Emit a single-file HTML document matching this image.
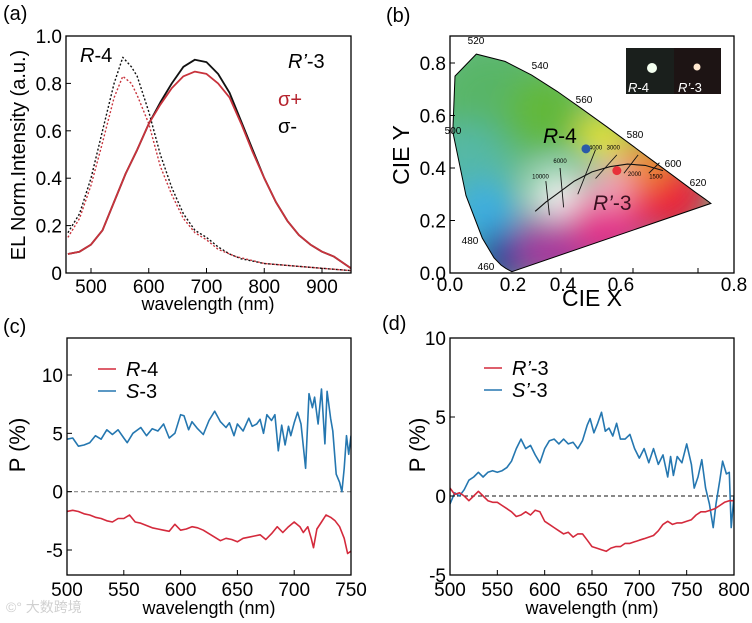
<!DOCTYPE html>
<html><head><meta charset="utf-8"><style>
html,body{margin:0;padding:0;background:#fff;}
svg{display:block;font-family:"Liberation Sans","Noto Sans CJK SC",sans-serif;}
</style></head><body>
<svg id="fig" width="752" height="623" viewBox="0 0 752 623" xmlns="http://www.w3.org/2000/svg">
<defs>
<filter id="blur" x="-50%" y="-50%" width="200%" height="200%"><feGaussianBlur stdDeviation="16"/></filter>
<clipPath id="locusClip"><path id="locusClipPath" d=""/></clipPath>
</defs>
<text x="3" y="20" font-size="20">(a)</text>
<text x="386" y="22" font-size="20">(b)</text>
<text x="3" y="333" font-size="20">(c)</text>
<text x="382" y="330" font-size="20">(d)</text>

<g id="pa"></g>
<g id="pb"></g>
<g id="pc"></g>
<g id="pd"></g>
<text x="6" y="612" font-size="14" fill="#d0d0d0">©° 大数跨境</text>
</svg>
<script>
// ---------- Panel (a) data ----------
const aBlackDotX = [460,480,500,520,540,555,570,580,600,620,640,660,680,700,720,740,760,780,800,850,900,950];
const aBlackDotY = [0.17,0.25,0.40,0.60,0.80,0.91,0.87,0.83,0.68,0.50,0.36,0.25,0.18,0.15,0.11,0.08,0.06,0.05,0.04,0.03,0.02,0.01];
const aRedDotX = [460,480,500,520,540,555,570,580,600,620,640,660,680,700,720,750,800,900,950];
const aRedDotY = [0.15,0.23,0.37,0.55,0.74,0.83,0.80,0.75,0.63,0.45,0.33,0.23,0.17,0.14,0.10,0.07,0.04,0.02,0.01];
const aSolidX = [460,480,500,520,540,560,580,600,620,640,660,680,700,720,740,760,780,800,820,840,860,880,900,920,950];
const aBlackSolidY = [0.08,0.09,0.12,0.18,0.30,0.42,0.52,0.63,0.72,0.80,0.87,0.90,0.89,0.84,0.76,0.64,0.52,0.40,0.30,0.22,0.16,0.12,0.09,0.07,0.02];
const aRedSolidY = [0.08,0.09,0.12,0.18,0.30,0.42,0.52,0.63,0.71,0.78,0.83,0.85,0.84,0.80,0.74,0.63,0.51,0.40,0.30,0.22,0.16,0.12,0.09,0.07,0.02];
const aXTicks = [500,600,700,800,900];
const aYTicks = [0,0.2,0.4,0.6,0.8,1.0];
const aYTickLabels = ["0","0.2","0.4","0.6","0.8","1.0"];

// ---------- Panel (b) data ----------
const locusX = [0.174,0.157,0.144,0.124,0.091,0.045,0.008,0.014,0.074,0.155,0.230,0.302,0.373,0.444,0.512,0.575,0.627,0.691,0.719,0.735];
const locusY = [0.005,0.018,0.030,0.058,0.133,0.295,0.538,0.750,0.834,0.806,0.754,0.692,0.624,0.555,0.487,0.424,0.372,0.308,0.281,0.265];
const locusLabels = ["460","480","500","520","540","560","580","600","620"];
const planckX = [0.24,0.27,0.30,0.35,0.40,0.45,0.50,0.55,0.60];
const planckY = [0.235,0.27,0.30,0.35,0.385,0.405,0.415,0.41,0.39];
const bXTickLabels = ["0.0","0.2","0.4","0.6","0.8"];
const bYTicks = [0,0.2,0.4,0.6,0.8];
const bYTickLabels = ["0.0","0.2","0.4","0.6","0.8"];
const pointR4 = [0.383,0.473];
const pointR3 = [0.47,0.39];

// ---------- Panel (c) data ----------
const cBlueX = [500,505,510,515,520,525,530,535,540,545,550,553,558,565,570,575,580,585,590,595,600,603,607,610,615,620,625,630,635,640,643,647,650,655,660,663,667,670,673,676,680,683,686,689,692,695,697,700,703,706,710,713,716,718,721,724,727,729,732,734,737,740,742,744,746,748,750];
const cBlueY = [4.5,4.6,3.9,4.0,4.2,4.8,4.5,5.3,4.9,5.3,4.6,4.2,5.0,5.5,4.8,5.4,5.2,5.8,4.6,5.0,6.6,6.5,5.3,6.0,5.4,4.9,6.1,6.9,6.0,5.5,5.9,4.8,5.8,5.2,6.3,5.6,5.8,6.2,5.0,6.6,6.1,6.6,3.5,5.7,4.0,5.6,4.8,5.9,6.8,5.8,2.0,8.4,7.2,8.1,5.8,8.8,4.1,8.6,6.3,5.2,1.5,0.8,0.0,2.0,4.8,3.2,4.8];
const cRedX = [500,505,510,515,520,525,530,535,540,545,550,555,560,565,570,575,580,585,590,595,600,605,610,615,620,625,630,635,640,645,650,655,660,665,670,675,680,685,690,695,700,705,708,712,715,717,720,724,728,732,736,740,744,747,750];
const cRedY = [-1.7,-1.6,-1.7,-1.9,-2.0,-2.2,-2.3,-2.5,-2.6,-2.3,-2.3,-2.0,-2.6,-2.7,-2.9,-3.1,-3.2,-3.3,-3.4,-2.8,-3.3,-3.2,-3.0,-3.1,-3.3,-3.6,-3.9,-4.2,-4.0,-4.1,-4.3,-4.0,-3.9,-3.8,-3.7,-4.1,-3.6,-3.0,-3.5,-3.0,-2.6,-3.0,-3.5,-3.0,-4.0,-4.8,-3.2,-2.6,-2.0,-2.2,-2.5,-3.0,-4.0,-5.3,-5.1];
const cXTicks = [500,550,600,650,700,750];
const cYTicks = [-5,0,5,10];

// ---------- Panel (d) data ----------
const dBlueX = [500,505,510,515,520,525,530,535,540,545,550,555,560,565,570,575,580,585,590,595,600,605,610,615,620,625,630,635,640,645,648,652,656,660,664,668,672,676,680,685,690,695,700,705,710,715,720,725,730,733,736,740,745,750,755,758,762,766,770,774,778,781,785,788,792,795,797,800];
const dBlueY = [-0.5,0.2,0.0,0.4,1.0,1.2,1.5,1.2,1.5,1.6,1.5,1.6,1.8,2.2,3.0,3.6,3.0,3.2,2.6,2.1,3.0,3.5,3.6,3.3,3.6,3.3,3.4,3.0,3.5,4.5,4.9,4.0,4.6,5.3,4.1,4.3,3.8,4.6,3.6,3.6,3.9,3.0,2.4,3.0,2.1,3.0,2.0,2.6,1.2,2.5,1.3,2.5,2.1,3.3,2.0,0.5,1.2,2.3,0.5,-0.5,-2.0,-0.5,1.0,2.2,1.4,1.5,-2.0,0.0];
const dRedX = [500,505,510,515,520,525,530,535,540,545,550,555,560,565,570,575,580,585,590,595,600,605,610,615,620,625,630,635,640,645,650,655,660,665,670,675,680,685,690,695,700,705,710,715,720,725,730,735,740,745,750,755,760,765,770,775,780,785,790,795,800];
const dRedY = [0.5,0.1,0.2,0.0,-0.3,0.0,0.3,0.0,-0.3,-0.4,-0.4,-0.6,-0.8,-1.0,-1.3,-1.2,-1.0,-1.2,-0.9,-1.0,-1.6,-1.8,-2.0,-2.2,-2.4,-2.3,-2.6,-2.4,-2.4,-2.8,-3.2,-3.3,-3.4,-3.5,-3.3,-3.2,-3.2,-3.0,-3.0,-2.9,-2.8,-2.7,-2.6,-2.5,-2.2,-1.8,-1.6,-1.8,-1.7,-1.7,-1.6,-1.5,-1.2,-1.0,-1.0,-0.9,-0.8,-0.6,-0.4,-0.3,-0.3];
const dXTicks = [500,550,600,650,700,750,800];
const dYTicks = [-5,0,5,10];

const NS = "http://www.w3.org/2000/svg";
function mk(parent, tag, attrs, text) {
  const e = document.createElementNS(NS, tag);
  for (const k in attrs) e.setAttribute(k, attrs[k]);
  if (text !== undefined) e.textContent = text;
  parent.appendChild(e);
  return e;
}
function lin(d0, d1, r0, r1) { return v => r0 + (v - d0) * (r1 - r0) / (d1 - d0); }
function pathD(xs, ys, sx, sy) { return xs.map((x, i) => (i ? "L" : "M") + sx(x).toFixed(1) + "," + sy(ys[i]).toFixed(1)).join(""); }

// ================= Panel A =================
(function () {
  const g = document.getElementById("pa");
  const sx = lin(500, 900, 91, 322), sy = lin(0, 1, 273, 36);
  const cp = mk(g, "clipPath", { id: "clipA" });
  mk(cp, "rect", { x: 66, y: 36, width: 285, height: 237 });
  const curves = [
    [aBlackDotX, aBlackDotY, "#111", "2,2", "series-r4-sigma-minus"],
    [aRedDotX, aRedDotY, "#c8333c", "2,2", "series-r4-sigma-plus"],
    [aSolidX, aBlackSolidY, "#111", "", "series-r3-sigma-minus"],
    [aSolidX, aRedSolidY, "#c8333c", "", "series-r3-sigma-plus"]];
  curves.forEach(c => {
    const p = mk(g, "path", { d: pathD(c[0], c[1], sx, sy), fill: "none", stroke: c[2], "stroke-width": c[3] ? 1.4 : 1.8, "stroke-dasharray": c[3], "stroke-linejoin": "round", "clip-path": "url(#clipA)" });
    
    
  });
  const box = mk(g, "rect", { x: 66, y: 36, width: 285, height: 237, fill: "none", stroke: "#000", "stroke-width": 1.3 });
  
  
  aXTicks.forEach(t => {
    mk(g, "line", { x1: sx(t), x2: sx(t), y1: 273, y2: 268, stroke: "#000" });
    const l = mk(g, "text", { x: sx(t), y: 293, "font-size": 19, "text-anchor": "middle" }, String(t));
    
    
  });
  aYTicks.forEach((t, i) => {
    mk(g, "line", { x1: 66, x2: 71, y1: sy(t), y2: sy(t), stroke: "#000" });
    const l = mk(g, "text", { x: 62, y: sy(t) + 7, "font-size": 19, "text-anchor": "end" }, aYTickLabels[i]);
    
    
  });
  const yt = mk(g, "text", { x: 0, y: 0, "font-size": 20, "text-anchor": "middle", transform: "translate(25,155) rotate(-90)" }, "EL Norm.Intensity (a.u.)");
  
  
  const xt = mk(g, "text", { x: 208, y: 310, "font-size": 18, "text-anchor": "middle" }, "wavelength (nm)");
  
  
  const t1 = mk(g, "text", { x: 80, y: 62, "font-size": 20 });
  t1.innerHTML = '<tspan font-style="italic">R</tspan>-4';
  
  
  const t2 = mk(g, "text", { x: 288, y: 68, "font-size": 20 });
  t2.innerHTML = '<tspan font-style="italic">R’</tspan>-3';
  
  
  const s1 = mk(g, "text", { x: 278, y: 106, "font-size": 20, fill: "#b5232d" }, "σ+");
  
  
  const s2 = mk(g, "text", { x: 278, y: 133, "font-size": 20, fill: "#000" }, "σ-");
  
  
})();

// ================= Panel B =================
(function () {
  const g = document.getElementById("pb");
  const sx = lin(0, 0.8, 450, 734), sy = lin(0, 0.8, 273, 63);
  const locD = pathD(locusX, locusY, sx, sy) + "Z";
  document.getElementById("locusClipPath").setAttribute("d", locD);
  const fillG = mk(g, "g", { "clip-path": "url(#locusClip)" });
  
  
  mk(fillG, "path", { d: locD, fill: "#6fbf90" });
  const blobs = [[0.12,0.65,"#58b568",60],[0.27,0.62,"#62b83a",38],[0.05,0.42,"#55b8a6",40],[0.1,0.22,"#3eaee0",35],[0.15,0.06,"#1d3f9a",28],[0.3,0.1,"#a53a9c",40],[0.45,0.2,"#e22a88",40],[0.62,0.3,"#ea1e3c",40],[0.55,0.42,"#f08a20",26],[0.43,0.52,"#eee42a",24],[0.3,0.3,"#f6f6f6",24],[0.45,0.33,"#f4a8c0",22]];
  const bg = mk(fillG, "g", { filter: "url(#blur)" });
  blobs.forEach(b => mk(bg, "circle", { cx: sx(b[0]), cy: sy(b[1]), r: b[3], fill: b[2] }));
  const loc = mk(g, "path", { d: locD, fill: "none", stroke: "#000", "stroke-width": 1 });
  
  
  const wl = [[486,270,"460"],[470,244,"480"],[453,134,"500"],[476,44,"520"],[540,69,"540"],[584,103,"560"],[635,138,"580"],[673,167,"600"],[698,186,"620"]];
  wl.forEach((w, i) => {
    const t = mk(g, "text", { x: w[0], y: w[1], "font-size": 10, "text-anchor": "middle" }, locusLabels[i]);
    
    
  });
  const pl = mk(g, "path", { d: pathD(planckX, planckY, sx, sy), fill: "none", stroke: "#111", "stroke-width": 1.1 });
  
  
  const iso = [[0.28,0.22,0.27,0.35],[0.32,0.25,0.31,0.40],[0.36,0.30,0.41,0.47],[0.41,0.36,0.47,0.45],[0.49,0.38,0.53,0.45],[0.56,0.38,0.59,0.42]];
  iso.forEach(s => {
    const l = mk(g, "line", { x1: sx(s[0]), y1: sy(s[1]), x2: sx(s[2]), y2: sy(s[3]), stroke: "#111", "stroke-width": 0.9 });
    
    
  });
  [[0.255,0.36,"10000"],[0.31,0.42,"6000"],[0.41,0.47,"4000"],[0.46,0.47,"3000"],[0.52,0.37,"2000"],[0.58,0.36,"1500"]].forEach(c => mk(g, "text", { x: sx(c[0]), y: sy(c[1]), "font-size": 6, "text-anchor": "middle" }, c[2]));
  const p1 = mk(g, "circle", { cx: sx(pointR4[0]), cy: sy(pointR4[1]), r: 4.5, fill: "#2a5aa8" });
  
  
  const p2 = mk(g, "circle", { cx: sx(pointR3[0]), cy: sy(pointR3[1]), r: 4.5, fill: "#e8303a" });
  
  
  const l1 = mk(g, "text", { x: 543, y: 143, "font-size": 21 });
  l1.innerHTML = '<tspan font-style="italic">R</tspan>-4';
  
  
  const l2 = mk(g, "text", { x: 593, y: 210, "font-size": 21, fill: "#3a1020" });
  l2.innerHTML = '<tspan font-style="italic">R’</tspan>-3';
  
  
  const ins = mk(g, "g", {});
  
  
  mk(ins, "rect", { x: 626, y: 48, width: 48, height: 46, fill: "#1a1f1c" });
  mk(ins, "rect", { x: 674, y: 48, width: 47, height: 46, fill: "#1d1414" });
  mk(ins, "circle", { cx: 652, cy: 68, r: 5, fill: "#f4fff0" });
  mk(ins, "circle", { cx: 697, cy: 67, r: 3.5, fill: "#ffe8d0" });
  const i1 = mk(ins, "text", { x: 628, y: 92, "font-size": 13, fill: "#fff" });
  i1.innerHTML = '<tspan font-style="italic">R</tspan>-4';
  const i2 = mk(ins, "text", { x: 678, y: 92, "font-size": 13, fill: "#fff" });
  i2.innerHTML = '<tspan font-style="italic">R’</tspan>-3';
  const box = mk(g, "rect", { x: 450, y: 36, width: 284, height: 237, fill: "none", stroke: "#000", "stroke-width": 1.3 });
  
  
  const xlp = [450, 513, 563, 621, 734];
  bXTickLabels.forEach((t, i) => {
    const l = mk(g, "text", { x: xlp[i], y: 291, "font-size": 19, "text-anchor": "middle" }, t);
    
    
  });
  [561, 633, 698].forEach(x => mk(g, "line", { x1: x, x2: x, y1: 273, y2: 268, stroke: "#000" }));
  bYTicks.forEach((t, i) => {
    mk(g, "line", { x1: 450, x2: 455, y1: sy(t), y2: sy(t), stroke: "#000" });
    const l = mk(g, "text", { x: 446, y: sy(t) + 7, "font-size": 19, "text-anchor": "end" }, bYTickLabels[i]);
    
    
  });
  const yt = mk(g, "text", { x: 0, y: 0, "font-size": 23, "text-anchor": "middle", transform: "translate(409,155) rotate(-90)" }, "CIE Y");
  
  
  const xt = mk(g, "text", { x: 592, y: 306, "font-size": 23, "text-anchor": "middle" }, "CIE X");
  
  
})();

// ================= Panels C & D =================
function polPanel(id, x0, x1, px0, px1, y0, y1, py0, py1, ticksX, ticksY, blueX, blueY, redX, redY, leg, zeroColor, leftLbl, tag) {
  const g = document.getElementById(id);
  const sx = lin(x0, x1, px0, px1), sy = lin(y0, y1, py0, py1);
  const cid = "clip" + tag;
  const cp = mk(g, "clipPath", { id: cid });
  mk(cp, "rect", { x: px0, y: 338, width: px1 - px0, height: 237 });
  const z = mk(g, "line", { x1: px0, x2: px1, y1: sy(0), y2: sy(0), stroke: zeroColor, "stroke-dasharray": "4,3", "stroke-width": 1.1 });
  
  
  const b = mk(g, "path", { d: pathD(blueX, blueY, sx, sy), fill: "none", stroke: "#2577b0", "stroke-width": 1.6, "stroke-linejoin": "round", "clip-path": "url(#" + cid + ")" });
  
  
  const r = mk(g, "path", { d: pathD(redX, redY, sx, sy), fill: "none", stroke: "#d42a3c", "stroke-width": 1.6, "stroke-linejoin": "round", "clip-path": "url(#" + cid + ")" });
  
  
  const box = mk(g, "rect", { x: px0, y: 338, width: px1 - px0, height: 237, fill: "none", stroke: "#000", "stroke-width": 1.3 });
  
  
  ticksX.forEach(t => {
    mk(g, "line", { x1: sx(t), x2: sx(t), y1: 575, y2: 570, stroke: "#000" });
    const l = mk(g, "text", { x: sx(t), y: 596, "font-size": 19, "text-anchor": "middle" }, String(t));
    
    
  });
  ticksY.forEach(t => {
    mk(g, "line", { x1: px0, x2: px0 + 5, y1: sy(t), y2: sy(t), stroke: "#000" });
    const l = mk(g, "text", { x: px0 - 4, y: sy(t) + 7, "font-size": 19, "text-anchor": "end" }, String(t));
    
    
  });
  const yt = mk(g, "text", { x: 0, y: 0, "font-size": 22, "text-anchor": "middle", transform: "translate(" + leftLbl + ",445) rotate(-90)" }, "P (%)");
  
  
  const xt = mk(g, "text", { x: (px0 + px1) / 2, y: 614, "font-size": 18, "text-anchor": "middle" }, "wavelength (nm)");
  
  
  [[leg[0], "#d42a3c", leg[2]], [leg[1], "#2577b0", leg[2] + 22]].forEach((e, i) => {
    mk(g, "line", { x1: leg[3], x2: leg[3] + 18, y1: e[2], y2: e[2], stroke: e[1], "stroke-width": 1.6 });
    const t = mk(g, "text", { x: leg[3] + 28, y: e[2] + 7, "font-size": 20 });
    t.innerHTML = e[0];
    
    
  });
}
polPanel("pc", 500, 750, 67, 351, -5, 10, 550, 375, cXTicks, cYTicks, cBlueX, cBlueY, cRedX, cRedY,
  ['<tspan font-style="italic">R</tspan>-4', '<tspan font-style="italic">S</tspan>-3', 369, 98], "#888", 25, "c");
polPanel("pd", 500, 800, 450, 734, -5, 10, 575, 338, dXTicks, dYTicks, dBlueX, dBlueY, dRedX, dRedY,
  ['<tspan font-style="italic">R’</tspan>-3', '<tspan font-style="italic">S’</tspan>-3', 368, 484], "#111", 425, "d");
</script>
</body></html>
